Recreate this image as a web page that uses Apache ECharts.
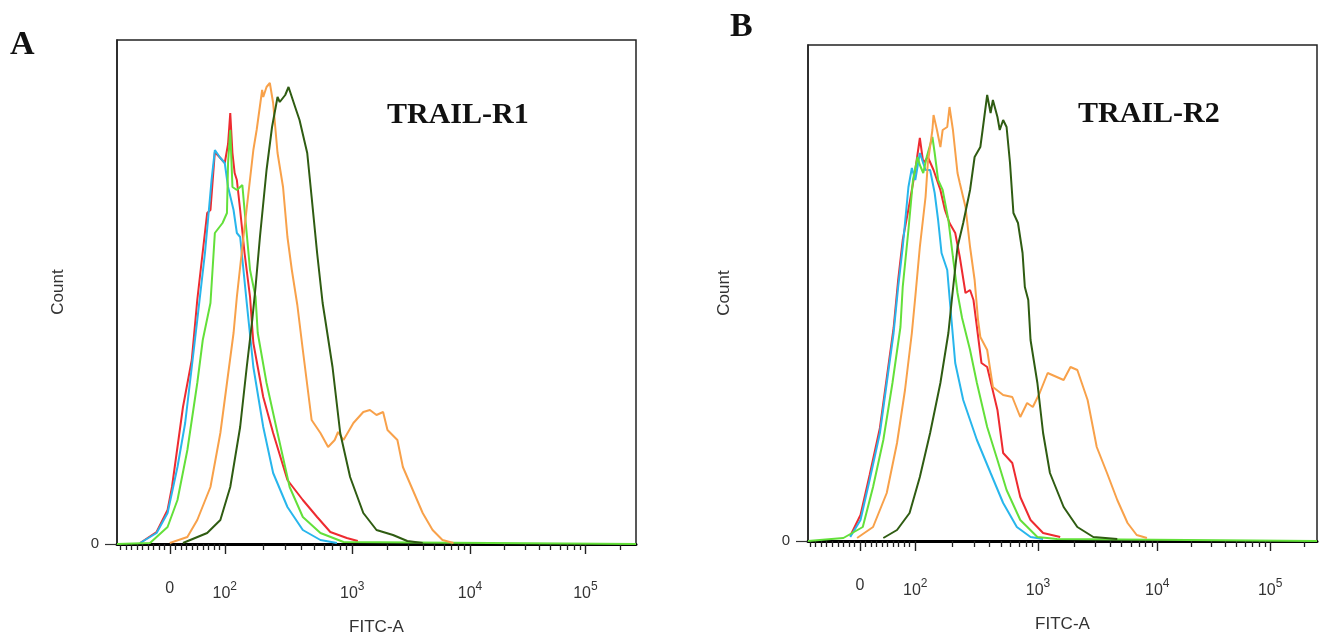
<!DOCTYPE html>
<html><head><meta charset="utf-8">
<script src="https://cdn.jsdelivr.net/npm/echarts@6/dist/echarts.min.js"></script>
<style>html,body{margin:0;padding:0;background:#fff}#c{width:1319px;height:634px}</style>
</head><body><div id="c"></div>
<script>
// x values are display-channel positions read along each panel's FITC-A axis; y values are counts (arbitrary units)
const tickLabels = ['0', '10^2', '10^3', '10^4', '10^5'];
const ticksA = [157, 207, 323, 430, 535];
const ticksB = [153.5, 202, 309.5, 414, 513];
const rangeA = [109, 581];
const rangeB = [108, 554];
const countMaxA = 504;
const countMaxB = 496;
const panelTitles = ['TRAIL-R1', 'TRAIL-R2'];
const panelLetters = ['A', 'B'];
const seriesNames = ['red', 'cyan', 'green', 'orange', 'darkgreen'];

const redA = [[130,1],[145,12],[155,34],[159,57],[169,137],[177,184],[182,244],[191,331],[194,334],[198,392],[203,386],[207,381],[210,400],[212,431],[214,391],[216,371],[218,364],[221,334],[225,291],[230,247],[233,201],[242,147],[251,111],[264,64],[278,44],[291,27],[303,12],[318,6],[328,3]];
const cyanA = [[130,1],[145,11],[155,31],[164,77],[171,121],[177,177],[182,224],[189,291],[192,327],[195,364],[198,394],[203,386],[207,381],[210,357],[215,334],[218,311],[221,307],[224,274],[227,241],[233,177],[242,117],[251,71],[264,37],[278,14],[294,4],[309,1]];
const greenA = [[139,1],[155,17],[164,44],[173,94],[182,161],[187,204],[194,241],[198,311],[205,321],[209,331],[210,381],[212,414],[214,357],[218,354],[223,359],[225,334],[230,274],[235,247],[237,211],[245,161],[255,111],[266,57],[278,27],[294,11],[315,2]];
const orangeA = [[157,1],[173,7],[182,24],[194,57],[203,111],[209,161],[215,211],[218,247],[224,307],[233,394],[236,414],[241,454],[242,447],[245,457],[248,461],[251,441],[255,391],[260,357],[264,307],[268,274],[273,239],[278,194],[286,124],[294,111],[301,97],[307,104],[310,112],[315,104],[324,121],[333,132],[339,134],[345,129],[351,132],[355,114],[364,104],[369,77],[378,54],[387,31],[396,14],[405,4],[415,1]];
const darkGreenA = [[169,1],[191,11],[203,24],[212,57],[221,117],[227,177],[232,224],[235,257],[239,307],[245,374],[250,417],[255,447],[257,442],[262,449],[265,457],[268,447],[271,437],[275,424],[282,391],[286,347],[291,291],[296,241],[298,227],[305,177],[312,111],[321,67],[333,31],[345,14],[360,9],[373,3],[387,1]];

const redB = [[145,5],[154,26],[162,66],[171,113],[177,163],[183,213],[187,261],[191,301],[197,338],[202,371],[206,403],[209,378],[213,384],[218,371],[224,351],[228,331],[232,318],[237,308],[241,284],[246,248],[250,251],[253,241],[260,178],[265,174],[274,131],[279,88],[287,78],[294,44],[303,21],[314,8],[329,4]];
const cyanB = [[145,4],[154,21],[162,61],[171,108],[177,158],[183,208],[187,254],[191,294],[196,354],[199,373],[202,361],[206,388],[211,371],[215,371],[219,348],[222,321],[225,288],[230,271],[232,244],[237,178],[244,141],[256,101],[268,68],[279,38],[291,14],[303,4],[314,2]];
const greenB = [[139,3],[156,14],[165,54],[174,101],[182,158],[189,214],[191,254],[196,311],[200,361],[204,384],[206,376],[209,368],[212,384],[217,404],[219,388],[222,361],[226,351],[231,321],[235,284],[239,248],[243,223],[250,191],[256,158],[265,114],[274,81],[282,51],[294,21],[309,4],[326,2]];
const orangeB = [[151,3],[165,14],[177,48],[186,98],[193,151],[199,208],[202,244],[206,294],[211,344],[213,378],[217,411],[218,426],[221,411],[224,394],[226,411],[230,414],[232,434],[235,411],[239,368],[241,358],[246,334],[250,294],[254,261],[257,221],[259,204],[265,191],[270,154],[279,146],[287,144],[294,124],[300,138],[305,134],[311,148],[318,168],[326,164],[332,161],[338,174],[344,171],[353,141],[361,94],[370,68],[379,41],[388,18],[396,6],[405,3]];
const darkGreenB = [[174,3],[186,11],[197,28],[206,64],[215,108],[224,158],[231,208],[234,241],[239,294],[244,318],[250,351],[254,384],[259,394],[261,411],[265,446],[268,428],[270,441],[274,424],[276,411],[279,421],[282,414],[285,378],[288,328],[292,318],[296,288],[298,254],[301,241],[303,201],[309,158],[314,108],[320,68],[332,34],[344,14],[358,4],[379,2]];

const colors = {red:'#ee2b30', cyan:'#28b6ec', green:'#63e03a', orange:'#f8a14a', darkgreen:'#2f5c12'};

function minorTicks(maj, lo, hi) {
  const out = [];
  const step = (maj[1] - maj[0]) / 10;
  for (let v = maj[0] - step; v > lo; v -= step) out.push(v);
  for (let k = 1; k < 10; k++) out.push(maj[0] + k * step);
  for (let i = 1; i < maj.length; i++) {
    const w = i < maj.length - 1 ? maj[i + 1] - maj[i] : maj[i] - maj[i - 1];
    for (let m = 2; m <= 9; m++) {
      const v = maj[i] + Math.log10(m) * w;
      if (v < hi) out.push(v);
    }
  }
  return out;
}
function fmt(ticks) {
  return function (v) {
    let i = 0, best = Infinity;
    ticks.forEach((t, j) => { if (Math.abs(t - v) < best) { best = Math.abs(t - v); i = j; } });
    const s = tickLabels[i];
    if (s.indexOf('^') >= 0) { const p = s.split('^'); return '{b|' + p[0] + '}{s|' + p[1] + '}'; }
    return '{b|' + s + '}';
  };
}
const rich = {
  b: {fontSize: 16, color: '#333', fontFamily: 'Liberation Sans'},
  s: {fontSize: 12, color: '#333', fontFamily: 'Liberation Sans', padding: [0, 0, 13, 0]}
};
const font = 'Liberation Sans';

function xAxes(g, ticks, range) {
  return [
    {gridIndex: g, type: 'value', min: range[0], max: range[1], position: 'bottom',
      axisLine: {show: true, onZero: false, lineStyle: {color: '#000', width: 3}},
      axisTick: {show: true, customValues: ticks, length: 10, lineStyle: {color: '#222', width: 1.4}},
      axisLabel: {show: true, customValues: ticks, formatter: fmt(ticks), rich: rich, margin: 37},
      splitLine: {show: false},
      name: 'FITC-A', nameLocation: 'middle', nameGap: 75,
      nameTextStyle: {fontSize: 17, color: '#333', fontFamily: font}},
    {gridIndex: g, type: 'value', min: range[0], max: range[1], position: 'bottom',
      axisLine: {show: false},
      axisTick: {show: true, customValues: minorTicks(ticks, range[0], range[1]), length: 6, lineStyle: {color: '#222', width: 1.3}},
      axisLabel: {show: false}, splitLine: {show: false}}
  ];
}
function yAxis(g, ymax, gap) {
  return {gridIndex: g, type: 'value', min: 0, max: ymax,
    axisLine: {show: true, lineStyle: {color: '#222', width: 1.5}},
    axisTick: {show: true, customValues: [0], length: 12, lineStyle: {color: '#333', width: 1.2}},
    axisLabel: {show: true, customValues: [0], margin: 18, fontSize: 15, color: '#333', fontFamily: font},
    splitLine: {show: false},
    name: 'Count', nameLocation: 'middle', nameGap: gap,
    nameTextStyle: {fontSize: 17, color: '#333', fontFamily: font}};
}
function line(name, data, xi, yi) {
  return {type: 'line', name: name, data: data, xAxisIndex: xi, yAxisIndex: yi,
    showSymbol: false, symbol: 'none', smooth: false,
    lineStyle: {color: colors[name], width: 2}, itemStyle: {color: colors[name]}};
}
const panelData = [
  [redA, cyanA, [[rangeA[0], 0]].concat(greenA, [[rangeA[1], 0]]), orangeA, darkGreenA],
  [redB, cyanB, [[rangeB[0], 0]].concat(greenB, [[rangeB[1], 0]]), orangeB, darkGreenB]
];
const series = [];
panelData.forEach((arr, p) => arr.forEach((d, k) => series.push(line(seriesNames[k], d, p * 2, p))));

const option = {
  animation: false,
  backgroundColor: '#fff',
  grid: [
    {left: 117, top: 40, width: 519, height: 504, show: true, borderColor: '#222', borderWidth: 1.5, containLabel: false, outerBoundsMode: 'none'},
    {left: 808, top: 45, width: 509, height: 496, show: true, borderColor: '#222', borderWidth: 1.5, containLabel: false, outerBoundsMode: 'none'}
  ],
  xAxis: xAxes(0, ticksA, rangeA).concat(xAxes(1, ticksB, rangeB)),
  yAxis: [yAxis(0, countMaxA, 50), yAxis(1, countMaxB, 75)],
  series: series,
  graphic: [
    {type: 'text', left: 10, top: 28, style: {text: panelLetters[0], font: 'bold 34px "Liberation Serif"', fill: '#111'}},
    {type: 'text', left: 730, top: 10, style: {text: panelLetters[1], font: 'bold 34px "Liberation Serif"', fill: '#111'}},
    {type: 'text', left: 387, top: 100, style: {text: panelTitles[0], font: 'bold 30px "Liberation Serif"', fill: '#111'}},
    {type: 'text', left: 1078, top: 99, style: {text: panelTitles[1], font: 'bold 30px "Liberation Serif"', fill: '#111'}}
  ]
};
echarts.init(document.getElementById('c')).setOption(option);
</script>
</body></html>
